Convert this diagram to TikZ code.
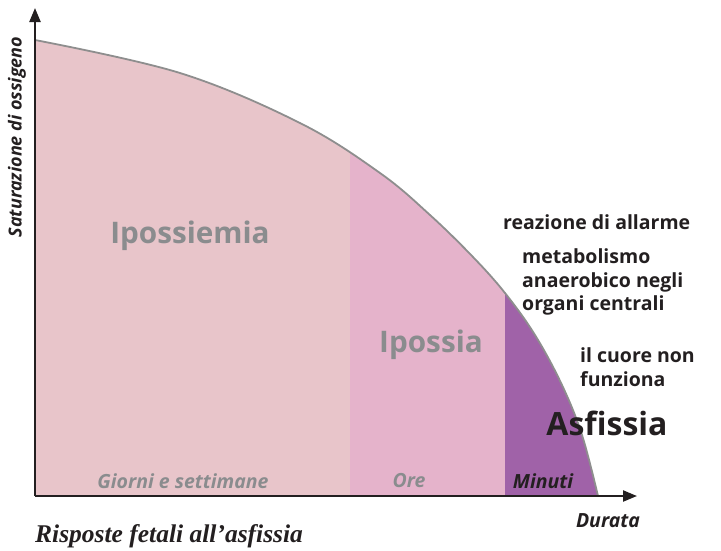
\documentclass[tikz,border=0pt]{standalone}
\usepackage{fontspec}
\setmainfont{Open Sans}[RawFeature=-liga]
\newfontfamily\titlefont{Liberation Serif}
\usetikzlibrary{arrows.meta}
\definecolor{pinkA}{HTML}{E8C5CA}
\definecolor{pinkB}{HTML}{E5B3CB}
\definecolor{purp}{HTML}{A062A8}
\definecolor{curvegray}{HTML}{8E8E8E}
\definecolor{txtgray}{HTML}{8A8C8E}
\definecolor{ink}{HTML}{231F20}
\begin{document}
\begin{tikzpicture}[x=1pt,y=-1pt,
  axis/.style={draw=ink,line width=2.2pt,-{Triangle[length=14pt,width=11pt]}},
  bigg/.style={font=\fontsize{29.7}{31}\selectfont\bfseries,text=txtgray},
  side/.style={font=\fontsize{19.5}{23.5}\selectfont\bfseries,text=ink,align=left,anchor=west,inner sep=0pt},
  bot/.style={font=\fontsize{19.5}{21}\selectfont\bfseries\itshape,inner sep=0pt}]
\useasboundingbox (0,0) rectangle (721,550);
\begin{scope}
\clip (35,496) -- plot[smooth,tension=0.6] coordinates {(35,40) (180,73) (300,123) (380,173) (430,215) (473,257) (505,293) (535,335) (562,385) (582,435) (598,496)} -- cycle;
\fill[pinkA] (35,0) rectangle (350,496);
\fill[pinkB] (350,0) rectangle (505,496);
\fill[purp] (505,0) rectangle (620,496);
\end{scope}
\draw[curvegray,line width=1.8pt] plot[smooth,tension=0.6] coordinates {(35,40) (180,73) (300,123) (380,173) (430,215) (473,257) (505,293) (535,335) (562,385) (582,435) (598,496)};
\coordinate (o) at (35,496);
\coordinate (ytip) at (35,8);
\coordinate (xtip) at (637,496);
\draw[axis] (o) -- (ytip);
\draw[axis] (o) -- (xtip);
\node[bigg] (ipossiemia) at (190,236) {Ipossiemia};
\node[bigg] (ipossia) at (431,345) {Ipossia};
\node[font=\fontsize{32}{34}\selectfont\bfseries,text=ink] (asfissia) at (607,423) {Asfissia};
\node[side] (allarme) at (503,222) {reazione di allarme};
\node[side] (metab) at (522,282) {metabolismo\\anaerobico negli\\organi centrali};
\node[side] (cuore) at (580,367) {il cuore non\\funziona};
\node[bot,text=txtgray] (giorni) at (183,481) {Giorni e settimane};
\node[bot,text=txtgray] (ore) at (409,481) {Ore};
\node[bot,text=ink] (minuti) at (543,481) {Minuti};
\node[bot,text=ink] (durata) at (608,521) {Durata};
\node[font=\fontsize{18}{20}\selectfont\bfseries\itshape,inner sep=0pt,text=ink,rotate=90] (ylab) at (17,137) {Saturazione di ossigeno};
\node[font=\titlefont\fontsize{25.5}{27}\selectfont\bfseries\itshape,text=ink,anchor=west,inner sep=0pt] (title) at (35,536) {Risposte fetali all’asfissia};
\end{tikzpicture}
\end{document}
